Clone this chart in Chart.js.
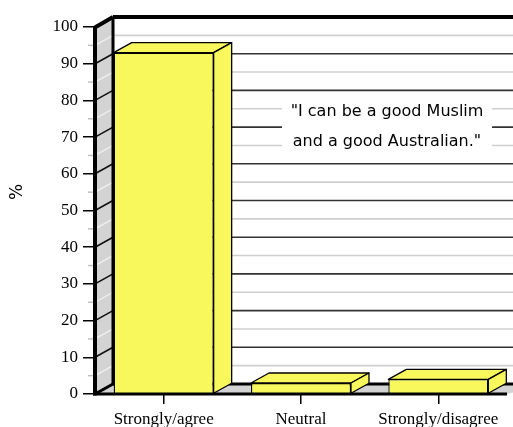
<!DOCTYPE html>
<html>
<head>
<meta charset="utf-8">
<script src="https://cdn.jsdelivr.net/npm/chart.js@4.4.0/dist/chart.umd.min.js"></script>
<style>
  html, body { margin: 0; padding: 0; background: #fff; }
  #wrap { width: 513px; height: 427px; }
</style>
</head>
<body>
<div id="wrap"><canvas id="surveyChart" width="513" height="427"></canvas></div>
<script>
// survey answers in percent
var categories = ['Strongly/agree', 'Neutral', 'Strongly/disagree'];
var percentValues = [93, 3, 4];
var tickStep = 10;
var minorStep = 5;
var quoteLines = ['"I can be a good Muslim', 'and a good Australian."'];

var DEPTH_X = 18, DEPTH_Y = -10;
var BAR_YELLOW = '#f8f85c';
var WALL_GREY = '#d3d3d3';
var SERIF = '"Liberation Serif", "Times New Roman", serif';

function line(ctx, x1, y1, x2, y2, color, width) {
    ctx.beginPath();
    ctx.moveTo(x1, y1);
    ctx.lineTo(x2, y2);
    ctx.strokeStyle = color;
    ctx.lineWidth = width;
    ctx.stroke();
}

function poly(ctx, pts, fill, stroke, width) {
    ctx.beginPath();
    ctx.moveTo(pts[0][0], pts[0][1]);
    for (var i = 1; i < pts.length; i++) ctx.lineTo(pts[i][0], pts[i][1]);
    ctx.closePath();
    ctx.fillStyle = fill;
    ctx.fill();
    if (stroke) {
        ctx.strokeStyle = stroke;
        ctx.lineWidth = width;
        ctx.lineJoin = 'round';
        ctx.stroke();
    }
}

// walls, floor and the 3d faces of the bars
var box3d = {
    id: 'box3d',
    beforeDatasetsDraw: function (chart) {
        var ctx = chart.ctx, area = chart.chartArea, y = chart.scales.y;
        var L = area.left, far = area.right + DEPTH_X + 20;
        var yTop = y.getPixelForValue(y.max), yZero = y.getPixelForValue(0);
        ctx.save();

        // back wall grid
        for (var v = minorStep; v < y.max; v += minorStep) {
            var py = y.getPixelForValue(v) + DEPTH_Y;
            var major = v % tickStep === 0;
            line(ctx, L + DEPTH_X, py, far, py, major ? '#333' : '#cfcfcf', 1.6);
        }
        line(ctx, L + DEPTH_X, yTop + DEPTH_Y, far, yTop + DEPTH_Y, '#000', 4);

        // quote box
        ctx.fillStyle = '#fff';
        ctx.fillRect(282, 96, 210, 59);
        ctx.fillStyle = '#000';
        ctx.font = '16px "DejaVu Sans"';
        ctx.textAlign = 'center';
        ctx.textBaseline = 'alphabetic';
        ctx.fillText(quoteLines[0], 387, 115.5);
        ctx.fillText(quoteLines[1], 387, 145.5);

        // side wall
        poly(ctx, [[L, yTop], [L + DEPTH_X, yTop + DEPTH_Y], [L + DEPTH_X, yZero + DEPTH_Y], [L, yZero]], WALL_GREY);
        for (var w = minorStep; w < y.max; w += minorStep) {
            var wy = y.getPixelForValue(w);
            if (w % tickStep === 0) {
                line(ctx, L, wy, L + DEPTH_X, wy + DEPTH_Y, '#111', 1.6);
            } else {
                line(ctx, L, wy, L + DEPTH_X, wy + DEPTH_Y, '#efefef', 1.4);
                line(ctx, L - 7, wy, L, wy, '#bbb', 1.4);
            }
        }
        line(ctx, L + DEPTH_X, yTop + DEPTH_Y, L + DEPTH_X, yZero + DEPTH_Y, '#000', 3);
        line(ctx, L - 1, yTop + 1, L + DEPTH_X, yTop + DEPTH_Y, '#000', 4);

        // floor
        poly(ctx, [[L, yZero], [L + DEPTH_X, yZero + DEPTH_Y], [far, yZero + DEPTH_Y], [area.right, yZero]], WALL_GREY);
        line(ctx, L + DEPTH_X, yZero + DEPTH_Y, far, yZero + DEPTH_Y, '#000', 3);
        line(ctx, L, yZero, L + DEPTH_X, yZero + DEPTH_Y, '#000', 3);

        // y axis title
        ctx.save();
        ctx.translate(18, 192);
        ctx.rotate(-Math.PI / 2);
        ctx.fillStyle = '#000';
        ctx.font = '17px "DejaVu Sans"';
        ctx.textAlign = 'center';
        ctx.textBaseline = 'middle';
        ctx.fillText('%', 0, 0);
        ctx.restore();

        ctx.restore();
    },
    afterDatasetsDraw: function (chart) {
        var ctx = chart.ctx, area = chart.chartArea, y = chart.scales.y;
        var yTop = y.getPixelForValue(y.max), yZero = y.getPixelForValue(0);
        ctx.save();
        chart.getDatasetMeta(0).data.forEach(function (bar) {
            var x1 = bar.x - bar.width / 2, x2 = bar.x + bar.width / 2;
            var top = bar.y, base = bar.base;
            poly(ctx, [[x1, top], [x1 + DEPTH_X, top + DEPTH_Y], [x2 + DEPTH_X, top + DEPTH_Y], [x2, top]], BAR_YELLOW, '#000', 1.3);
            poly(ctx, [[x2, top], [x2 + DEPTH_X, top + DEPTH_Y], [x2 + DEPTH_X, base + DEPTH_Y], [x2, base]], BAR_YELLOW, '#000', 1.3);
        });
        // front edges of the box
        line(ctx, area.left, yTop, area.left, yZero + 1.5, '#000', 4);
        line(ctx, area.left - 2, yZero, area.right, yZero, '#000', 3);
        ctx.restore();
    }
};

var ctx = document.getElementById('surveyChart').getContext('2d');
new Chart(ctx, {
    type: 'bar',
    data: {
        labels: categories,
        datasets: [{
            data: percentValues,
            backgroundColor: BAR_YELLOW,
            borderColor: '#000',
            borderWidth: 1.3,
            categoryPercentage: 1,
            barPercentage: 0.728
        }]
    },
    options: {
        responsive: false,
        animation: false,
        layout: { padding: { top: 27, right: 6, left: 0, bottom: 0 } },
        plugins: { legend: { display: false }, tooltip: { enabled: false } },
        scales: {
            x: {
                grid: { drawOnChartArea: false, offset: false, tickLength: 10, color: '#000', lineWidth: 1.5 },
                border: { display: false },
                ticks: { color: '#000', font: { family: SERIF, size: 17 }, padding: 5, maxRotation: 0 },
                afterFit: function (s) { s.height = 33; }
            },
            y: {
                min: 0,
                max: 100,
                grid: { drawOnChartArea: false, tickLength: 12, color: '#000', lineWidth: 1.5 },
                border: { display: false },
                ticks: { stepSize: tickStep, color: '#000', font: { family: SERIF, size: 17 }, padding: 5 },
                afterFit: function (s) { s.width = 95; }
            }
        }
    },
    plugins: [box3d]
});
</script>
</body>
</html>
